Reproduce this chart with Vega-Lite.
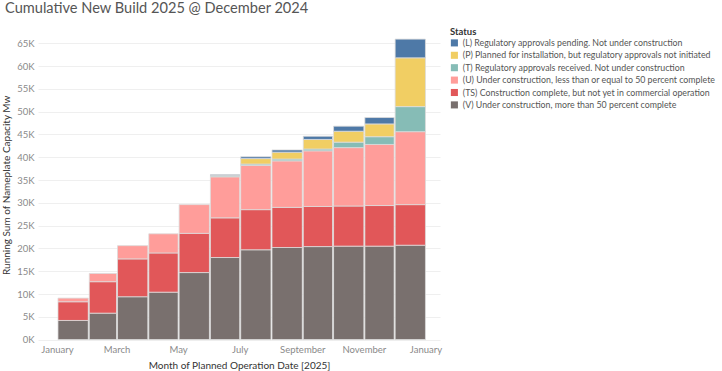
{
  "$schema": "https://vega.github.io/schema/vega-lite/v6.json",
  "autosize": {"type": "none"},
  "width": 402,
  "height": 309.6,
  "padding": {"left": 38, "top": 30, "right": 282, "bottom": 31.4},
  "background": "white",
  "title": {
    "text": "Cumulative New Build 2025 @ December 2024",
    "anchor": "start",
    "frame": "group",
    "dx": -33,
    "offset": 11,
    "font": "Lato",
    "fontSize": 14.6,
    "fontWeight": "normal",
    "color": "#555555"
  },
  "datasets": {
    "statuses": [
      {"s": "L", "status": "(L) Regulatory approvals pending. Not under construction"},
      {"s": "P", "status": "(P) Planned for installation, but regulatory approvals not initiated"},
      {"s": "T", "status": "(T) Regulatory approvals received. Not under construction"},
      {"s": "U", "status": "(U) Under construction, less than or equal to 50 percent complete"},
      {"s": "TS", "status": "(TS) Construction complete, but not yet in commercial operation"},
      {"s": "V", "status": "(V) Under construction, more than 50 percent complete"}
    ]
  },
  "data": {
    "values": [
      {"month": "2025-01-15", "s": "V", "mw": 4200},
      {"month": "2025-01-15", "s": "TS", "mw": 4100},
      {"month": "2025-01-15", "s": "U", "mw": 800},
      {"month": "2025-02-15", "s": "V", "mw": 5800},
      {"month": "2025-02-15", "s": "TS", "mw": 6900},
      {"month": "2025-02-15", "s": "U", "mw": 1800},
      {"month": "2025-03-15", "s": "V", "mw": 9400},
      {"month": "2025-03-15", "s": "TS", "mw": 8300},
      {"month": "2025-03-15", "s": "U", "mw": 2900},
      {"month": "2025-04-15", "s": "V", "mw": 10400},
      {"month": "2025-04-15", "s": "TS", "mw": 8600},
      {"month": "2025-04-15", "s": "U", "mw": 4200},
      {"month": "2025-05-15", "s": "V", "mw": 14700},
      {"month": "2025-05-15", "s": "TS", "mw": 8600},
      {"month": "2025-05-15", "s": "U", "mw": 6300},
      {"month": "2025-06-15", "s": "V", "mw": 18000},
      {"month": "2025-06-15", "s": "TS", "mw": 8700},
      {"month": "2025-06-15", "s": "U", "mw": 9000},
      {"month": "2025-06-15", "s": "T", "mw": 200},
      {"month": "2025-06-15", "s": "P", "mw": 100},
      {"month": "2025-06-15", "s": "L", "mw": 200},
      {"month": "2025-07-15", "s": "V", "mw": 19700},
      {"month": "2025-07-15", "s": "TS", "mw": 8800},
      {"month": "2025-07-15", "s": "U", "mw": 9700},
      {"month": "2025-07-15", "s": "T", "mw": 300},
      {"month": "2025-07-15", "s": "P", "mw": 1200},
      {"month": "2025-07-15", "s": "L", "mw": 400},
      {"month": "2025-08-15", "s": "V", "mw": 20200},
      {"month": "2025-08-15", "s": "TS", "mw": 8800},
      {"month": "2025-08-15", "s": "U", "mw": 10200},
      {"month": "2025-08-15", "s": "T", "mw": 400},
      {"month": "2025-08-15", "s": "P", "mw": 1500},
      {"month": "2025-08-15", "s": "L", "mw": 500},
      {"month": "2025-09-15", "s": "V", "mw": 20400},
      {"month": "2025-09-15", "s": "TS", "mw": 8800},
      {"month": "2025-09-15", "s": "U", "mw": 12200},
      {"month": "2025-09-15", "s": "T", "mw": 400},
      {"month": "2025-09-15", "s": "P", "mw": 2100},
      {"month": "2025-09-15", "s": "L", "mw": 700},
      {"month": "2025-10-15", "s": "V", "mw": 20500},
      {"month": "2025-10-15", "s": "TS", "mw": 8800},
      {"month": "2025-10-15", "s": "U", "mw": 12800},
      {"month": "2025-10-15", "s": "T", "mw": 1200},
      {"month": "2025-10-15", "s": "P", "mw": 2400},
      {"month": "2025-10-15", "s": "L", "mw": 1100},
      {"month": "2025-11-15", "s": "V", "mw": 20500},
      {"month": "2025-11-15", "s": "TS", "mw": 8900},
      {"month": "2025-11-15", "s": "U", "mw": 13400},
      {"month": "2025-11-15", "s": "T", "mw": 1700},
      {"month": "2025-11-15", "s": "P", "mw": 2800},
      {"month": "2025-11-15", "s": "L", "mw": 1400},
      {"month": "2025-12-15", "s": "V", "mw": 20700},
      {"month": "2025-12-15", "s": "TS", "mw": 8900},
      {"month": "2025-12-15", "s": "U", "mw": 16000},
      {"month": "2025-12-15", "s": "T", "mw": 5500},
      {"month": "2025-12-15", "s": "P", "mw": 10700},
      {"month": "2025-12-15", "s": "L", "mw": 4100}
    ]
  },
  "transform": [
    {"lookup": "s", "from": {"data": {"name": "statuses"}, "key": "s", "fields": ["status"]}},
    {"calculate": "indexof(['V','TS','U','T','P','L'], datum.s)", "as": "stackRank"}
  ],
  "mark": {"type": "bar", "stroke": "#dcdcdc", "strokeWidth": 0.8},
  "encoding": {
    "x": {
      "field": "month",
      "timeUnit": "yearmonth",
      "type": "temporal",
      "title": "Month of Planned Operation Date [2025]",
      "scale": {
        "domain": [
          {"year": 2024, "month": 12, "date": 13, "hours": 5},
          {"year": 2026, "month": 1, "date": 15, "hours": 10}
        ]
      },
      "axis": {
        "values": [
          {"year": 2025, "month": 1, "date": 1},
          {"year": 2025, "month": 3, "date": 1},
          {"year": 2025, "month": 5, "date": 1},
          {"year": 2025, "month": 7, "date": 1},
          {"year": 2025, "month": 9, "date": 1},
          {"year": 2025, "month": 11, "date": 1},
          {"year": 2026, "month": 1, "date": 1}
        ],
        "format": "%B",
        "formatType": "time",
        "grid": false,
        "ticks": false,
        "domain": false,
        "labelPadding": 5,
        "labelFont": "Lato",
        "labelFontSize": 9.5,
        "labelColor": "#8a8a8a",
        "labelFlush": false,
        "titleFont": "Lato",
        "titleFontSize": 10,
        "titleFontWeight": "normal",
        "titleColor": "#333333",
        "titlePadding": 6
      }
    },
    "y": {
      "field": "mw",
      "type": "quantitative",
      "aggregate": "sum",
      "stack": "zero",
      "title": "Running Sum of Nameplate Capacity Mw",
      "scale": {"domain": [0, 67900], "nice": false},
      "axis": {
        "values": [0, 5000, 10000, 15000, 20000, 25000, 30000, 35000, 40000, 45000, 50000, 55000, 60000, 65000],
        "labelExpr": "(datum.value/1000) + 'K'",
        "grid": true,
        "gridColor": "#efefef",
        "gridWidth": 1,
        "ticks": false,
        "domain": false,
        "labelPadding": 4,
        "labelFont": "Lato",
        "labelFontSize": 9.5,
        "labelColor": "#8a8a8a",
        "titleFont": "Lato",
        "titleFontSize": 10,
        "titleFontWeight": "normal",
        "titleColor": "#333333",
        "titlePadding": 5
      }
    },
    "color": {
      "field": "status",
      "type": "nominal",
      "scale": {
        "domain": [
          "(L) Regulatory approvals pending. Not under construction",
          "(P) Planned for installation, but regulatory approvals not initiated",
          "(T) Regulatory approvals received. Not under construction",
          "(U) Under construction, less than or equal to 50 percent complete",
          "(TS) Construction complete, but not yet in commercial operation",
          "(V) Under construction, more than 50 percent complete"
        ],
        "range": ["#4e79a7", "#f1ce63", "#86bcb6", "#ff9d9a", "#e15759", "#79706e"]
      },
      "legend": {
        "title": "Status",
        "orient": "none",
        "legendX": 412,
        "legendY": -3,
        "symbolType": "square",
        "symbolSize": 50,
        "symbolStrokeWidth": 0,
        "rowPadding": 2.4,
        "labelFont": "Lato",
        "labelFontSize": 8.8,
        "labelColor": "#555555",
        "labelLimit": 300,
        "titleFont": "Lato",
        "titleFontSize": 9.5,
        "titleFontWeight": "bold",
        "titleColor": "#333333",
        "titlePadding": 2
      }
    },
    "order": {"field": "stackRank", "type": "quantitative", "sort": "ascending"}
  },
  "config": {
    "view": {"stroke": null}
  }
}
